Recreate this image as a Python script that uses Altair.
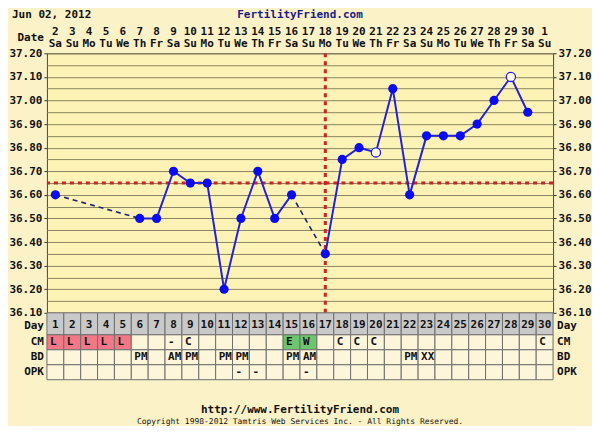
import altair as alt
import pandas as pd

# ---------------- data ----------------
day_num = list(range(1, 31))
dates = [2, 3, 4, 5, 6, 7, 8, 9, 10, 11, 12, 13, 14, 15, 16, 17, 18, 19, 20, 21,
         22, 23, 24, 25, 26, 27, 28, 29, 30, 1]
weekdays = ["Sa", "Su", "Mo", "Tu", "We", "Th", "Fr", "Sa", "Su", "Mo", "Tu", "We", "Th", "Fr", "Sa",
            "Su", "Mo", "Tu", "We", "Th", "Fr", "Sa", "Su", "Mo", "Tu", "We", "Th", "Fr", "Sa", "Su"]
temps = [36.60, None, None, None, None, 36.50, 36.50, 36.70, 36.65, 36.65,
         36.20, 36.50, 36.70, 36.50, 36.60, None, 36.35, 36.75, 36.80, 36.78,
         37.05, 36.60, 36.85, 36.85, 36.85, 36.90, 37.00, 37.10, 36.95, None]
open_days = [20, 28]
coverline = [36.65]
ovulation_day = [17]
cm = ["L", "L", "L", "L", "L", "", "", "-", "C", "", "", "", "", "", "E",
      "W", "", "C", "C", "C", "", "", "", "", "", "", "", "", "", "C"]
bd = ["", "", "", "", "", "PM", "", "AM", "PM", "", "PM", "PM", "", "", "PM",
      "AM", "", "", "", "", "", "PM", "XX", "", "", "", "", "", "", ""]
opk = ["", "", "", "", "", "", "", "", "", "", "", "-", "-", "", "",
       "-", "", "", "", "", "", "", "", "", "", "", "", "", "", ""]
table_rows = ["CM", "BD", "OPK"]
y_ticks = [round(36.10 + 0.05 * i, 2) for i in range(23)]
x_bounds = [i + 0.5 for i in range(31)]

# ---------------- derived tables ----------------
df = pd.DataFrame({"day": day_num, "date": dates, "wd": weekdays, "temp": temps})
meas = df.dropna(subset=["temp"]).copy()
seg, sid, prev = [], 0, None
dash_rows, pid = [], 0
for d, t in zip(meas["day"], meas["temp"]):
    if prev is not None and d != prev[0] + 1:
        sid += 1
        dash_rows.append({"pair": pid, "day": prev[0], "temp": prev[1]})
        dash_rows.append({"pair": pid, "day": d, "temp": t})
        pid += 1
    seg.append(sid)
    prev = (d, t)
meas["seg"] = seg
meas["open"] = meas["day"].isin(open_days)
dash_df = pd.DataFrame(dash_rows)

long_rows = []
for r, vals in zip(table_rows, [cm, bd, opk]):
    for d, v in zip(day_num, vals):
        cat = "plain"
        if r == "CM" and v == "L":
            cat = "pink"
        elif r == "CM" and v in ("E", "W"):
            cat = "green"
        long_rows.append({"row": r, "day": d, "val": v, "cat": cat})
tab = pd.DataFrame(long_rows)

# ---------------- style ----------------
FONT = "DejaVu Sans Mono"
W, H = 507, 260
DAYH = 22
PAGE = "#FBF2C8"
PLOT = "#FEF3B6"
GRID = "#8A8562"
BLUE = "#2222D8"
PT = "#0B0BF0"
RED = "#CC2222"
NAVY = "#1E2470"

xs = alt.Scale(domain=[0.5, 30.5], nice=False, zero=False)
ys = alt.Scale(domain=[36.10, 37.20], nice=False, zero=False)
is_tenth = "round(datum.value*100) % 10 == 0"
lab_expr = f"({is_tenth}) ? format(datum.value, '.2f') : ''"

def yaxis(orient, grid):
    return alt.Axis(orient=orient, values=y_ticks, labelExpr=lab_expr, grid=grid,
                    gridColor=GRID, gridWidth=1, gridOpacity=1, tickSize=3, tickColor="#333",
                    tickOpacity={"condition": {"test": is_tenth, "value": 1}, "value": 0},
                    domain=False, title=None, labelFont=FONT, labelFontSize=11,
                    labelFontWeight="bold", labelColor="#111", labelPadding=2)

xaxis = alt.Axis(orient="top", values=x_bounds, labels=False, grid=True, gridColor=GRID,
                 gridWidth=1, gridOpacity=1, tickSize=4, tickColor="#333", domain=False, title=None)

base = alt.Chart(meas)
cover = alt.Chart(pd.DataFrame({"cover": coverline})).mark_rule(
    color=RED, strokeWidth=3, strokeDash=[4, 4]).encode(y=alt.Y("cover:Q", scale=ys, axis=None))
ovl = alt.Chart(pd.DataFrame({"ov": ovulation_day})).mark_rule(
    color=RED, strokeWidth=3, strokeDash=[4, 4]).encode(x=alt.X("ov:Q", scale=xs, axis=None))
dashed = alt.Chart(dash_df).mark_line(color=NAVY, strokeWidth=1.6, strokeDash=[5, 4]).encode(
    x=alt.X("day:Q", scale=xs, axis=xaxis),
    y=alt.Y("temp:Q", scale=ys, axis=yaxis("left", True)),
    detail="pair:N", order="day:Q")
solid = base.mark_line(color=BLUE, strokeWidth=2).encode(
    x=alt.X("day:Q", scale=xs, axis=None),
    y=alt.Y("temp:Q", scale=ys, axis=yaxis("right", False)),
    detail="seg:N", order="day:Q")
filled = base.transform_filter("!datum.open").mark_circle(size=85, color=PT, opacity=1).encode(
    x=alt.X("day:Q", scale=xs, axis=None), y=alt.Y("temp:Q", scale=ys, axis=None))
hollow = base.transform_filter("datum.open").mark_point(
    shape="circle", filled=True, fill="#FFF9DC", stroke=BLUE, strokeWidth=1.3, size=85, opacity=1
).encode(x=alt.X("day:Q", scale=xs, axis=None), y=alt.Y("temp:Q", scale=ys, axis=None))

txt = dict(font=FONT, fontSize=11, fontWeight="bold", color="#111")
date_t = alt.Chart(df).mark_text(**txt, baseline="middle").encode(
    x=alt.X("day:Q", scale=xs, axis=None), y=alt.value(-21), text="date:N")
wd_t = alt.Chart(df).mark_text(**txt, baseline="middle").encode(
    x=alt.X("day:Q", scale=xs, axis=None), y=alt.value(-9), text="wd:N")
date_lab = alt.Chart(pd.DataFrame({"t": ["Date"]})).mark_text(**txt, align="right", baseline="middle").encode(
    x=alt.value(-3), y=alt.value(-15), text="t:N")
title_l = alt.Chart(pd.DataFrame({"t": ["Jun 02, 2012"]})).mark_text(**txt, align="left", baseline="middle").encode(
    x=alt.value(-35), y=alt.value(-38), text="t:N")
title_c = alt.Chart(pd.DataFrame({"t": ["FertilityFriend.com"]})).mark_text(
    font=FONT, fontSize=11, fontWeight="bold", color="#1A1A8A", baseline="middle").encode(
    x=alt.value(W / 2), y=alt.value(-38), text="t:N")

top = alt.layer(cover, ovl, dashed, solid, filled, hollow, date_t, wd_t, date_lab, title_l, title_c
                ).resolve_axis(y="independent").properties(
    width=W, height=H, view=alt.ViewBackground(fill=PLOT, stroke="#4A4A3A", strokeWidth=1))

# ---------------- Day row ----------------
dday = df.assign(r="Day")
rowy = alt.Scale(paddingInner=0, paddingOuter=0)
day_cells = alt.Chart(dday).transform_calculate(x0="datum.day-0.5", x1="datum.day+0.5").mark_rect(
    fill="#C9C9C9", stroke="#6E6E6E", strokeWidth=1).encode(
    x=alt.X("x0:Q", scale=xs, axis=None), x2="x1:Q", y=alt.Y("r:N", scale=rowy, axis=None))
day_txt = alt.Chart(dday).mark_text(**txt, baseline="middle", dy=1).encode(
    x=alt.X("day:Q", scale=xs, axis=None), y=alt.Y("r:N", scale=rowy, axis=None), text="day:N")
lab_df = pd.DataFrame({"r": ["Day"]})
day_l = alt.Chart(lab_df).mark_text(**txt, align="right", baseline="middle", dy=2).encode(
    x=alt.value(-3), y=alt.Y("r:N", scale=rowy, axis=None), text="r:N")
day_r = alt.Chart(lab_df).mark_text(**txt, align="left", baseline="middle", dy=2).encode(
    x=alt.value(W + 4), y=alt.Y("r:N", scale=rowy, axis=None), text="r:N")
day_panel = alt.layer(day_cells, day_txt, day_l, day_r).properties(
    width=W, height=DAYH, view=alt.ViewBackground(stroke=None))

# ---------------- CM / BD / OPK rows ----------------
ry = alt.Y("row:N", sort=table_rows, scale=rowy, axis=None)
cells = alt.Chart(tab).transform_calculate(x0="datum.day-0.5", x1="datum.day+0.5").mark_rect(
    stroke="#6E6E6E", strokeWidth=1).encode(
    x=alt.X("x0:Q", scale=xs, axis=None), x2="x1:Q", y=ry,
    fill=alt.Fill("cat:N", scale=alt.Scale(domain=["plain", "pink", "green"],
                                           range=["#FDF6DA", "#F27888", "#6DC56D"]), legend=None))
cell_txt = alt.Chart(tab).transform_calculate(x0="datum.day-0.5").mark_text(
    **txt, align="left", baseline="middle", dx=3).encode(
    x=alt.X("x0:Q", scale=xs, axis=None), y=ry, text="val:N")
rl_df = pd.DataFrame({"row": table_rows})
row_l = alt.Chart(rl_df).mark_text(**txt, align="right", baseline="middle").encode(
    x=alt.value(-3), y=ry, text="row:N")
row_r = alt.Chart(rl_df).mark_text(**txt, align="left", baseline="middle").encode(
    x=alt.value(W + 4), y=ry, text="row:N")
foot1 = alt.Chart(pd.DataFrame({"t": ["http://www.FertilityFriend.com"]})).mark_text(
    **txt, baseline="middle").encode(x=alt.value(W / 2), y=alt.value(45 + 30), text="t:N")
foot2 = alt.Chart(pd.DataFrame({"t": ["Copyright 1998-2012 Tamtris Web Services Inc. - All Rights Reserved."]})).mark_text(
    font=FONT, fontSize=8, color="#111", baseline="middle").encode(
    x=alt.value(W / 2), y=alt.value(45 + 42), text="t:N")
bot_panel = alt.layer(cells, cell_txt, row_l, row_r, foot1, foot2).properties(
    width=W, height=45, view=alt.ViewBackground(stroke=None))

chart = alt.vconcat(top, day_panel, bot_panel, spacing=0, bounds="flush",
                    padding=0, background=PAGE)

chart.save("out.html", embed_options={"renderer": "svg", "actions": False})
